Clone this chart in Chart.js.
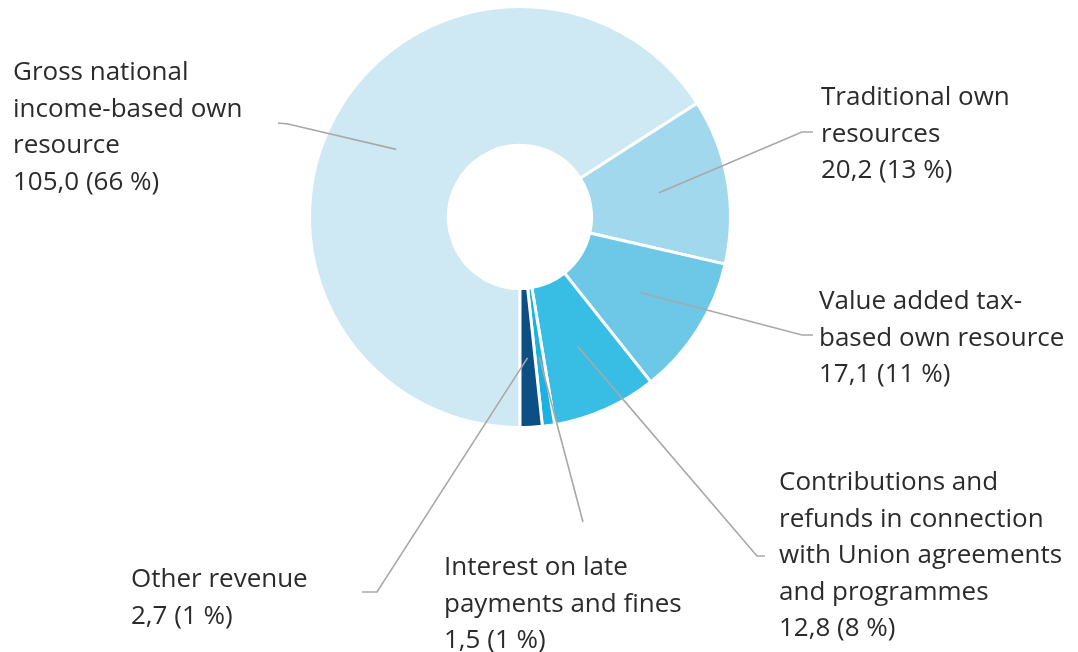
<!DOCTYPE html>
<html>
<head>
<meta charset="utf-8">
<script src="https://cdn.jsdelivr.net/npm/chart.js@4.4.1/dist/chart.umd.min.js"></script>
<style>
  html, body { margin: 0; padding: 0; background: #fff; }
  #wrap { width: 1078px; height: 652px; position: relative; }
</style>
</head>
<body>
<div id="wrap"><canvas id="chart"></canvas></div>
<script>
// revenue split (EUR billion), clockwise from the bottom
var categories = [
    'Gross national income-based own resource',
    'Traditional own resources',
    'Value added tax-based own resource',
    'Contributions and refunds in connection with Union agreements and programmes',
    'Interest on late payments and fines',
    'Other revenue'
];
var values = [105.0, 20.2, 17.1, 12.8, 1.5, 2.7];
var shares = [66, 13, 11, 8, 1, 1]; // % as printed
var colors = ['#cfe9f4', '#a1d8ee', '#6dc8e8', '#38bde5', '#1ab2e2', '#0b4f85'];

// how each label is wrapped
var labelText = [
    ['Gross national', 'income-based own', 'resource'],
    ['Traditional own', 'resources'],
    ['Value added tax-', 'based own resource'],
    ['Contributions and', 'refunds in connection', 'with Union agreements', 'and programmes'],
    ['Interest on late', 'payments and fines'],
    ['Other revenue']
];

// label placement: text x / first baseline, then leader elbow + end
var labelPos = [
    { x: 13,  y: 80,  elbow: [288, 124], end: [278, 123] },
    { x: 821, y: 105, elbow: [802, 132], end: [813, 132] },
    { x: 819, y: 309, elbow: [802, 335], end: [813, 335] },
    { x: 779, y: 490, elbow: [757, 556], end: [765, 556] },
    { x: 444, y: 575, elbow: null,       end: [583, 522] },
    { x: 131, y: 587, elbow: [377, 592], end: [362, 592] }
];
var lineHeight = 36.5;

function fmt(v) {
    return v.toFixed(1).replace('.', ',');
}

var labelPlugin = {
    id: 'outLabels',
    afterDraw: function (chart) {
        var ctx = chart.ctx;
        var meta = chart.getDatasetMeta(0);
        ctx.save();
        meta.data.forEach(function (arc, i) {
            var p = arc.getProps(['x', 'y', 'startAngle', 'endAngle', 'innerRadius', 'outerRadius'], true);
            var mid = (p.startAngle + p.endAngle) / 2;
            var r = (p.innerRadius + p.outerRadius) / 2;
            var sx = p.x + Math.cos(mid) * r;
            var sy = p.y + Math.sin(mid) * r;
            var lp = labelPos[i];

            ctx.strokeStyle = '#a8a8a8';
            ctx.lineWidth = 1.6;
            ctx.beginPath();
            ctx.moveTo(sx, sy);
            if (lp.elbow) ctx.lineTo(lp.elbow[0], lp.elbow[1]);
            ctx.lineTo(lp.end[0], lp.end[1]);
            ctx.stroke();

            var lines = labelText[i].concat([fmt(values[i]) + ' (' + shares[i] + ' %)']);
            ctx.fillStyle = '#2b2b2b';
            ctx.font = '26px "Open Sans", Lato, sans-serif';
            ctx.textAlign = 'left';
            ctx.textBaseline = 'alphabetic';
            lines.forEach(function (t, k) {
                ctx.fillText(t, lp.x, lp.y + k * lineHeight);
            });
        });
        ctx.restore();
    }
};

new Chart(document.getElementById('chart'), {
    type: 'doughnut',
    data: {
        labels: categories,
        datasets: [{
            data: values,
            backgroundColor: colors,
            borderColor: '#ffffff',
            borderWidth: 3,
            hoverOffset: 0
        }]
    },
    options: {
        responsive: true,
        maintainAspectRatio: false,
        animation: false,
        rotation: 180,
        cutout: '34%',
        layout: { padding: { left: 308, top: 5, right: 346, bottom: 223 } },
        plugins: {
            legend: { display: false },
            tooltip: { enabled: false }
        }
    },
    plugins: [labelPlugin]
});
</script>
</body>
</html>
